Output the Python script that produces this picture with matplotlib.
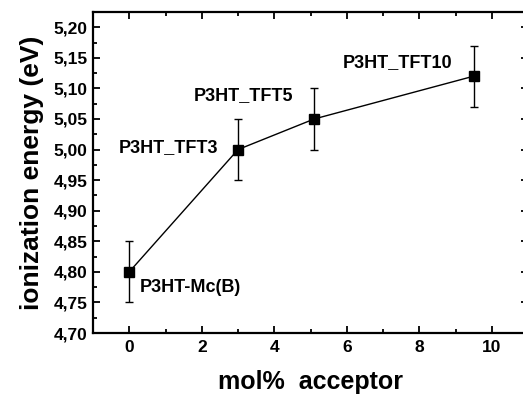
import matplotlib
matplotlib.use("Agg")
from matplotlib import pyplot as plt
from matplotlib.ticker import MultipleLocator, FuncFormatter

# data
mol_acceptor = [0, 3, 5.1, 9.5]
ionization_ev = [4.80, 5.00, 5.05, 5.12]
ion_err = [0.05, 0.05, 0.05, 0.05]

sample_names = ["P3HT-Mc(B)", "P3HT_TFT3", "P3HT_TFT5", "P3HT_TFT10"]
label_x = [0.28, -0.28, 1.77, 5.9]
label_y = [4.774, 5.003, 5.089, 5.143]

plt.rcParams['font.family'] = ['Liberation Sans', 'DejaVu Sans']
plt.rcParams['font.weight'] = 'bold'

fig = plt.figure(figsize=(5.23, 3.96), dpi=100)
ax = fig.add_axes([93/523, 63/396, 435/523, 321/396])

ax.errorbar(mol_acceptor, ionization_ev, yerr=ion_err, color='black',
            lw=1, marker='s', markersize=7, elinewidth=1, capsize=3, capthick=1)

for name, x, y in zip(sample_names, label_x, label_y):
    ax.text(x, y, name, fontsize=13, fontweight='bold', va='center', ha='left')

ax.set_xlim(-1, 11)
ax.set_ylim(4.70, 5.225)
ax.xaxis.set_major_locator(MultipleLocator(2))
ax.xaxis.set_minor_locator(MultipleLocator(1))
ax.yaxis.set_major_locator(MultipleLocator(0.05))
ax.yaxis.set_minor_locator(MultipleLocator(0.025))
ax.yaxis.set_major_formatter(FuncFormatter(lambda v, p: ('%.2f' % v).replace('.', ',')))

ax.tick_params(which='both', direction='in', top=True, right=True, width=1.3)
ax.tick_params(which='major', length=5, labelsize=12.5, pad=5)
ax.tick_params(axis='y', which='major', pad=4)
ax.tick_params(which='minor', length=3)
for lab in ax.get_xticklabels() + ax.get_yticklabels():
    lab.set_fontweight('bold')
for sp in ax.spines.values():
    sp.set_linewidth(1.6)

ax.set_xlabel('mol%  acceptor', fontsize=18, fontweight='bold', labelpad=11)
ax.set_ylabel('ionization energy (eV)', fontsize=19, fontweight='bold', labelpad=7)

fig.savefig('out.png', dpi=100)
